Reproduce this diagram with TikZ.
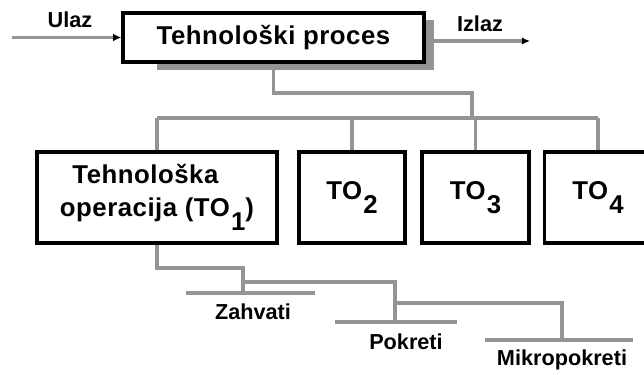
\documentclass[tikz,border=0pt]{standalone}
\usepackage{fontspec}
\setmainfont{Liberation Sans}
\usetikzlibrary{arrows.meta, positioning, backgrounds}
\newcommand{\tosub}[1]{\kern0.05em\raisebox{-0.55em}{#1}}
\tikzset{
  box/.style={draw=black, line width=2.7pt, fill=white, minimum height=2.73cm,
    inner sep=0pt, align=center,
    font=\fontsize{22}{27.5}\selectfont\bfseries\addfontfeature{LetterSpace=2}},
  link/.style={draw=black!42, line width=2.8pt},
  lbl/.style={font=\fontsize{18.5}{22}\selectfont\bfseries, inner sep=0pt},
  tip/.style={-{Latex[length=7pt, width=6.5pt, color=black]}}
}

\begin{document}
\begin{tikzpicture}[x=0.03cm, y=-0.03cm]
\useasboundingbox (0,0) rectangle (644,375);
% top box with its shadow
\fill [black!42] (157,20) rectangle (434,70);
\node [box, minimum width=9.03cm, minimum height=1.47cm] (proc) at (273.5,37.5) {Tehnološki proces};
\node [lbl] (ulaz) at (70,20) {Ulaz};
\node [lbl] (izlaz) at (480,24) {Izlaz};
\coordinate (in) at (12,37.5);
\coordinate (out) at (530,41);
% operations
\node [box, minimum width=7.2cm] (to1) at (157,197.5) {Tehnološka\hspace*{0.9em}\\operacija (TO\tosub{1})};
\node [box, minimum width=3.18cm] (to2) at (352,197.5) {TO\tosub{2}};
\node [box, minimum width=3.21cm] (to3) at (475.5,197.5) {TO\tosub{3}};
\node [box, minimum width=3.21cm] (to4) at (598,197.5) {TO\tosub{4}};
\coordinate (bus) at (472,118);
% lower levels
\node [lbl] (zahvati) at (253,312) {Zahvati};
\node [lbl] (pokreti) at (406,342) {Pokreti};
\node [lbl] (mikro) at (562,360) {Mikropokreti};
\coordinate (zl) at (186,293);
\coordinate (zr) at (315,293);
\coordinate (pl) at (335,322);
\coordinate (pr) at (457,322);
\coordinate (ml) at (485,340);
\coordinate (mr) at (633,340);
\coordinate (zj) at (243,268);
\coordinate (pj) at (243,282);
\coordinate (mj) at (395,303);

\begin{scope}[on background layer]
\draw [link, tip] (in) -- (proc.west);
\draw [link, tip] (proc.east |- out) -- (out);
\draw [link] (proc.south) -- (proc.south |- 0,93) -| (bus);
\draw [link] (to1.north |- bus) -- (to4.north |- bus);
\foreach \n in {to1,to2,to3,to4}
  \draw [link] (\n.north) -- (\n.north |- bus);
\draw [link] (to1.south) |- (zj) -- (zj |- zl);
\draw [link] (zl) -- (zr);
\draw [link] (pj) -| (pj -| mj) -- (mj |- pl);
\draw [link] (pl) -- (pr);
\draw [link] (mj) -| (mikro.north |- ml);
\draw [link] (ml) -- (mr);
\end{scope}
\end{tikzpicture}
\end{document}
